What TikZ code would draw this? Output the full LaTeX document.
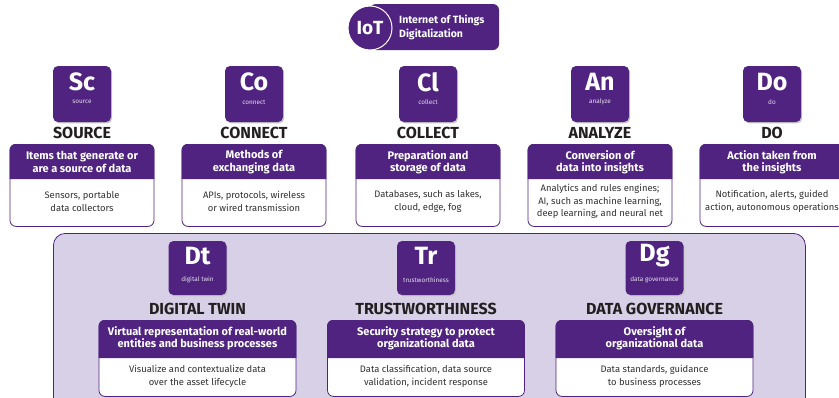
\documentclass[tikz,border=0pt]{standalone}
\usepackage{fontspec}
\setmainfont{Fira Sans}
\usetikzlibrary{positioning}
\definecolor{iotpurple}{RGB}{79,35,127}
\definecolor{lav}{RGB}{216,208,230}
\definecolor{bodytxt}{RGB}{50,50,50}
\definecolor{titletxt}{RGB}{35,31,32}
\tikzset{
  iconbox/.style={fill=iotpurple, rounded corners=5pt, minimum width=58pt, minimum height=56pt, inner sep=0pt},
  icontxt/.style={text=white, font=\fontsize{25}{25}\selectfont\bfseries, inner sep=0pt},
  iconsmall/.style={text=white!85!iotpurple, font=\fontsize{6.4}{7}\selectfont, inner sep=0pt},
  coltitle/.style={text=titletxt, font=\fontsize{16}{18}\selectfont\bfseries, inner sep=0pt},
  framebox/.style={draw=iotpurple, line width=0.8pt, fill=white, rounded corners=6pt, inner sep=0pt, anchor=north},
  headtxt/.style={text=white, font=\fontsize{11}{12.3}\selectfont\bfseries, align=center, inner sep=0pt},
  bodytext/.style={text=bodytxt, font=\fontsize{9.4}{12.8}\selectfont, align=center, inner sep=0pt},
  shadowbox/.style={fill=black!22, rounded corners=5pt, minimum width=58pt, minimum height=56pt, inner sep=0pt},
}
% top column: #1 name, #2 x, #3 abbrev, #4 small, #5 title, #6 header, #7 body
\newcommand\mktopcol[7]{%
  \node[shadowbox] at (#2+1.2,95.4) {};
  \node[iconbox] (#1-icon) at (#2,94) {};
  \node[icontxt] (#1-abbr) at (#2,82) {#3};
  \node[iconsmall] (#1-small) at (#2,102) {#4};
  \node[coltitle] (#1-title) at (#2,133) {#5};
  \node[framebox, minimum width=144pt, minimum height=82pt] (#1-box) at (#2,144) {};
  \fill[iotpurple] ([yshift=-35pt]#1-box.north west) {[rounded corners=6pt] -- (#1-box.north west) -- (#1-box.north east)} -- ([yshift=-35pt]#1-box.north east) -- cycle;
  \node[headtxt] (#1-head) at (#2,162) {#6};
  \node[bodytext] (#1-body) at (#2,201.5) {#7};
}
\newcommand\mkbotcol[7]{%
  \node[shadowbox, minimum height=54pt] at (#2+1.2,269.4) {};
  \node[iconbox, minimum height=54pt] (#1-icon) at (#2,268) {};
  \node[icontxt] (#1-abbr) at (#2,256) {#3};
  \node[iconsmall] (#1-small) at (#2,280) {#4};
  \node[coltitle] (#1-title) at (#2,309) {#5};
  \node[framebox, minimum width=197pt, minimum height=76pt] (#1-box) at (#2,320) {};
  \fill[iotpurple] ([yshift=-38pt]#1-box.north west) {[rounded corners=6pt] -- (#1-box.north west) -- (#1-box.north east)} -- ([yshift=-38pt]#1-box.north east) -- cycle;
  \node[headtxt] (#1-head) at (#2,338.5) {#6};
  \node[bodytext] (#1-body) at (#2,376) {#7};
}
\begin{document}
\begin{tikzpicture}[x=1pt,y=-1pt]
\useasboundingbox[fill=white] (0,0) rectangle (839,397);
% IoT badge
\node[fill=iotpurple, rounded corners=6pt, minimum width=129pt, minimum height=46pt, inner sep=0pt] (iotrect) at (434.5,27) {};
\node[circle, fill=iotpurple, draw=white, line width=1pt, minimum size=44pt, inner sep=0pt] (iotcircle) at (370,28) {};
\node[text=white, font=\fontsize{19}{19}\selectfont\bfseries, inner sep=0pt] (iotlabel) at (370,28) {IoT};
\node[text=white, font=\fontsize{10.5}{13.5}\selectfont\bfseries, align=left, anchor=west, inner sep=0pt] (iottext) at (399,27.5) {Internet of Things\\Digitalization};
% top columns
\mktopcol{sc}{82}{Sc}{source}{SOURCE}{Items that generate or\\are a source of data}{Sensors, portable\\data collectors}
\mktopcol{co}{254}{Co}{connect}{CONNECT}{Methods of\\exchanging data}{APIs, protocols, wireless\\or wired transmission}
\mktopcol{cl}{428}{Cl}{collect}{COLLECT}{Preparation and\\storage of data}{Databases, such as lakes,\\cloud, edge, fog}
\mktopcol{an}{600}{An}{analyze}{ANALYZE}{Conversion of\\data into insights}{Analytics and rules engines;\\AI, such as machine learning,\\deep learning, and neural net}
\mktopcol{do}{772}{Do}{do}{DO}{Action taken from\\the insights}{Notification, alerts, guided\\action, autonomous operations}
% bottom panel
\node[draw=iotpurple, line width=0.8pt, fill=lav, rounded corners=12pt, minimum width=752pt, minimum height=180pt, anchor=north west, inner sep=0pt] (panel) at (53,233) {};
\mkbotcol{dt}{197.5}{Dt}{digital twin}{DIGITAL TWIN}{Virtual representation of real-world\\entities and business processes}{Visualize and contextualize data\\over the asset lifecycle}
\mkbotcol{tr}{426}{Tr}{trustworthiness}{TRUSTWORTHINESS}{Security strategy to protect\\organizational data}{Data classification, data source\\validation, incident response}
\mkbotcol{dg}{654.5}{Dg}{data governance}{DATA GOVERNANCE}{Oversight of\\organizational data}{Data standards, guidance\\to business processes}
\end{tikzpicture}
\end{document}
